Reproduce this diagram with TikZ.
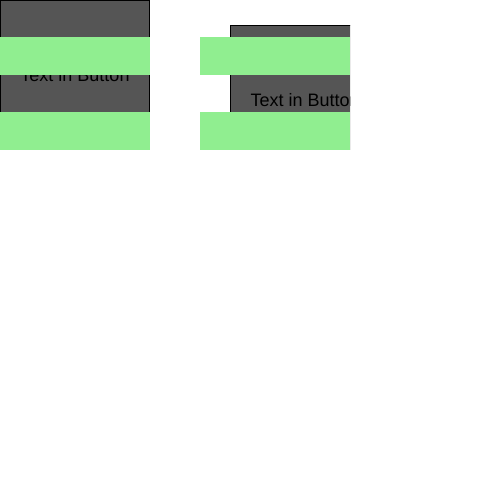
\documentclass[tikz,border=0pt]{standalone}
\usepackage{fontspec}
\setmainfont{Liberation Sans}
\usetikzlibrary{positioning}
\definecolor{buttongray}{HTML}{555555}
\definecolor{bandgreen}{HTML}{90EE90}
\tikzset{x=1pt, y=-1pt,
button/.style={ % Sets the properties for each button
draw=black,
fill=buttongray,
line width=1pt,
outer sep=0pt,
minimum width=149pt,
minimum height=149pt,
anchor=north west},
band/.style={fill=bandgreen}, % Green bars laid over the buttons
button text/.style={
font=\fontsize{18}{22}\selectfont,
text=black,
inner sep=0pt}}

\begin{document}
\begin{tikzpicture}
\useasboundingbox (0,0) rectangle (500,500);
\begin{scope}
\clip (0,0) rectangle (150,149.5);
\node[button] (btnA) at (0.5,0.5) {};
\node[button text] (txtA) at (btnA.center) {Text in Button};
\end{scope}
\begin{scope}
\clip (200,0) rectangle (350,149.5);
\node[button] (btnB) at (230.5,25.5) {};
\node[button text, anchor=west] (txtB) at ([xshift=20pt]btnB.west) {Text in Button};
\end{scope}
\fill[band] (0,37.5) rectangle (150,75);
\fill[band] (0,112.5) rectangle (150,150);
\fill[band] (200,37.5) rectangle (350,75);
\fill[band] (200,112.5) rectangle (350,150);
\end{tikzpicture}
\end{document}
